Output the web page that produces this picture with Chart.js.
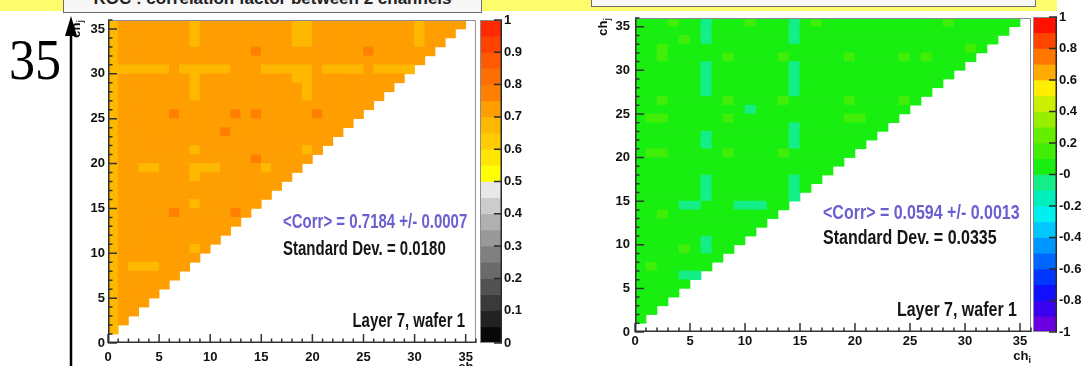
<!DOCTYPE html>
<html>
<head>
<meta charset="utf-8">
<title>Correlation factor between 2 channels</title>
<script src="https://cdn.jsdelivr.net/npm/chart.js@4.4.1/dist/chart.umd.min.js"></script>
<style>
  html, body { margin: 0; padding: 0; background: #fff; }
  #stage { position: relative; width: 1081px; height: 366px; overflow: hidden; background: #fff; }
  #stage canvas { position: absolute; top: 0; }
  .band { position: absolute; left: 0; top: 0; width: 1057px; height: 11px; background: #fcfc6c; z-index: 1; }
  .titlebox { position: absolute; top: -22px; background: #f7f7f7; border: 1px solid #6e6e6e; box-sizing: border-box; overflow: hidden; z-index: 2; }
  .titlebox span { position: absolute; left: 0; right: 0; top: 11px; text-align: center; font: bold 17px/17px "Liberation Sans", Arial, sans-serif; color: #222; white-space: nowrap; }
  .slideNum { position: absolute; left: 9px; top: 31px; font: 58px/58px "Liberation Serif", "Times New Roman", serif; color: #000; transform: scaleX(0.9); transform-origin: left top; z-index: 2; }
  .arrow { position: absolute; left: 0; top: 0; z-index: 3; }
</style>
</head>
<body>
<div id="stage">
  <canvas id="leftMap" width="420" height="366" style="left:60px"></canvas>
  <canvas id="leftBar" width="60" height="366" style="left:480px"></canvas>
  <canvas id="rightMap" width="455" height="366" style="left:580px"></canvas>
  <canvas id="rightBar" width="48" height="366" style="left:1033px"></canvas>
  <div class="band"></div>
  <div class="titlebox" style="left:63px;width:419px;height:35px"><span>ROC : correlation factor between 2 channels</span></div>
  <div class="titlebox" style="left:591px;width:445px;height:29px"></div>
  <div class="slideNum">35</div>
  <svg class="arrow" width="90" height="366">
    <line x1="71" y1="30" x2="71" y2="366" stroke="#000" stroke-width="2.5"/>
    <polygon points="71,16 65,36 77,36" fill="#000"/>
  </svg>
</div>

<script>
// ============================================================================
// DATA
// ============================================================================

const channelCount = 36;
const axisTickValues = [0, 5, 10, 15, 20, 25, 30, 35];

// Left map: colour codes -> correlation value
const leftCodes = ['l', 'o', 'd'];
const leftCodeValues = [0.68, 0.72, 0.77];
// one string per ch_j row, top row (ch_j = 35) first, ch_i = 0 on the left
const leftRows = [
  'loooo ooolo ooooo oooll ooooo ooooo loooo',
  'loooo ooolo ooooo oooll ooooo ooooo looo',
  'loooo ooolo ooooo oooll ooooo ooooo loo',
  'loooo ooooo ooood ooooo ooooo doooo oo',
  'loooo ooooo ooooo ooooo ooooo ooooo o',
  'lllll lolll llooo lllll ollll ollll',
  'loooo ooolo ooooo oooll ooooo oooo',
  'loooo ooolo ooooo ooool ooooo ooo',
  'loooo ooolo ooooo ooool ooooo oo',
  'loooo ooooo ooooo ooooo ooooo o',
  'loooo odooo oodod ooooo doooo',
  'loooo ooooo ooooo ooooo oooo',
  'loooo ooooo odooo ooooo ooo',
  'loooo ooooo ooooo ooooo oo',
  'loooo ooolo ooooo ooool o',
  'loooo ooooo ooood ooooo',
  'looll oooll loooo looo',
  'loooo ooolo ooooo ooo',
  'loooo ooooo ooooo oo',
  'loooo ooooo ooooo o',
  'loooo ooolo ooooo',
  'loooo odooo oodo',
  'loooo ooooo ooo',
  'loooo ooooo oo',
  'loooo ooooo o',
  'loooo ooolo',
  'loooo oooo',
  'lolll ooo',
  'loooo oo',
  'loooo o',
  'loooo',
  'looo',
  'loo',
  'lo',
  'l'
];

// Right map: colour codes -> correlation value
const rightCodes = ['y', 'g', 't'];
const rightCodeValues = [0.13, 0.06, -0.04];
const rightRows = [
  'gggyg gtggg ygggt gyggg ggggg gggyg ggggg',
  'ggggg gtggg ggggt ggggg ggggg ggggg gggg',
  'ggggy gtggg ggggt ggggg ggggg ggggg ggg',
  'ggygg ggggg ggggg ggggg ggggg ggggg yg',
  'ggygg gggyg gggyg ggggy ggggy gyggg g',
  'ggggg gtggg ggggt ggggg ggggg ggggg',
  'ggggg gtggg ggggt ggggg ggggg gggg',
  'ggggg gtggg ggggt ggggg ggggg ggg',
  'ggggg gtggg ggggt ggggg ggggg gg',
  'ggygg gggyg gggyg ggggy ggggy g',
  'ggggg ggggg tgggg ggggg ggggg',
  'gyygg gggyg ggggg ggggy yggg',
  'ggggg ggggg ggggt ggggg ggg',
  'ggggg gtggg ggggt ggggg gg',
  'ggggg gtggg ggggt ggggg g',
  'gyygg gggyg gggyg ggggg',
  'ggggg ggggg ggggg gggg',
  'ggggg ggggg ggggg ggg',
  'ggggg gtggg ggggt gg',
  'ggggg gtggg ggggt g',
  'ggggg gtggg ggggt',
  'ggggt tgggt ttgg',
  'ggygg ggggg ggg',
  'ggggg ggggg gg',
  'ggggg ggggg g',
  'ggggg gtggg',
  'ggggy gtgg',
  'ggggg ggg',
  'gyggg gg',
  'ggggt t',
  'ggggg',
  'gggg',
  'ggg',
  'gg',
  'g'
];

// Colour palettes (low -> high) and the z ranges they cover
const leftPalette = ['#080808', '#222222', '#3a3a3a', '#525252', '#6a6a6a', '#808080', '#999999', '#b0b0b0', '#cccccc', '#e8e8e8',
                     '#ffff00', '#ffe600', '#ffcc00', '#ffb800', '#ff9e00', '#ff8000', '#ff6e00', '#ff5a00', '#ff4200', '#ff2a00'];
const leftRange = [0, 1];
const leftBarTicks = [0, 0.1, 0.2, 0.3, 0.4, 0.5, 0.6, 0.7, 0.8, 0.9, 1];
const leftBarLabels = ['0', '0.1', '0.2', '0.3', '0.4', '0.5', '0.6', '0.7', '0.8', '0.9', '1'];

const rightPalette = ['#6a00e0', '#3a00f0', '#1010ff', '#0036ff', '#0066ff', '#0096ff', '#00c8ff', '#00f0f0', '#00eebb', '#14ee88',
                      '#18ee10', '#40ee08', '#66ee00', '#99ee00', '#ccee00', '#ffee00', '#ffaa00', '#ff7700', '#ff4400', '#ff1100'];
const rightRange = [-1, 1];
const rightBarTicks = [-1, -0.8, -0.6, -0.4, -0.2, 0, 0.2, 0.4, 0.6, 0.8, 1];
const rightBarLabels = ['-1', '-0.8', '-0.6', '-0.4', '-0.2', '-0', '0.2', '0.4', '0.6', '0.8', '1'];

// Statistics boxes
const leftStats = ['<Corr> = 0.7184 +/- 0.0007', 'Standard Dev. = 0.0180', 'Layer 7, wafer 1'];
const rightStats = ['<Corr> = 0.0594 +/- 0.0013', 'Standard Dev. = 0.0335', 'Layer 7, wafer 1'];

// ============================================================================
// HELPERS
// ============================================================================

const fontFamily = '"Liberation Sans", Arial, sans-serif';
const tickFont = { family: fontFamily, size: 13, weight: 'bold' };

function colorFor(v, palette, range) {
  const k = Math.floor((v - range[0]) / (range[1] - range[0]) * palette.length);
  return palette[Math.max(0, Math.min(palette.length - 1, k))];
}

// Turn row strings into floating-bar cells {x, y:[j, j+1], v}
function buildCells(rows, codes, values) {
  const cells = [];
  rows.forEach((row, r) => {
    const j = rows.length - r;
    const chars = row.replace(/ /g, '');
    for (let i = 0; i < chars.length && i < j; i++) {
      cells.push({ x: i + 0.5, y: [j, j + 1], v: values[codes.indexOf(chars[i])] });
    }
  });
  return cells;
}

// "ch" with a subscript, right end at (x, y); rotated for the y axis
function drawSubLabel(ctx, main, sub, x, y, rotate) {
  ctx.save();
  ctx.translate(x, y);
  if (rotate) ctx.rotate(-Math.PI / 2);
  ctx.fillStyle = '#111';
  ctx.textBaseline = 'alphabetic';
  ctx.textAlign = 'left';
  ctx.font = 'bold 13px ' + fontFamily;
  const w1 = ctx.measureText(main).width;
  ctx.font = 'bold 9px ' + fontFamily;
  const w2 = ctx.measureText(sub).width;
  ctx.font = 'bold 13px ' + fontFamily;
  ctx.fillText(main, -(w1 + w2), 0);
  ctx.font = 'bold 9px ' + fontFamily;
  ctx.fillText(sub, -w2, 3);
  ctx.restore();
}

function stretchedText(ctx, text, x, y, align, size, color) {
  ctx.save();
  ctx.translate(x, y);
  ctx.scale(1, 1.3);
  ctx.font = 'bold ' + size + 'px ' + fontFamily;
  ctx.fillStyle = color;
  ctx.textAlign = align;
  ctx.textBaseline = 'middle';
  ctx.fillText(text, 0, 0);
  ctx.restore();
}

// Frame, inward ROOT-style ticks, axis titles and the stats text
const heatFrame = {
  id: 'heatFrame',
  afterDatasetsDraw(chart, args, opts) {
    const { ctx, chartArea: a, scales: { x, y } } = chart;
    ctx.save();
    ctx.strokeStyle = '#8c8c8c';
    ctx.lineWidth = 1;
    ctx.beginPath();
    ctx.moveTo(a.left, a.top + 0.5); ctx.lineTo(a.right - 0.5, a.top + 0.5); ctx.lineTo(a.right - 0.5, a.bottom);
    ctx.stroke();

    ctx.strokeStyle = '#333';
    ctx.lineWidth = 1.5;
    ctx.beginPath();
    ctx.moveTo(a.left + 0.75, a.top); ctx.lineTo(a.left + 0.75, a.bottom - 0.75); ctx.lineTo(a.right, a.bottom - 0.75);
    for (let v = 0; v <= channelCount; v++) {
      const len = axisTickValues.includes(v) ? 9 : 4.5;
      const px = x.getPixelForValue(v);
      ctx.moveTo(px, a.bottom); ctx.lineTo(px, a.bottom - len);
      const py = y.getPixelForValue(v);
      ctx.moveTo(a.left, py); ctx.lineTo(a.left + len, py);
    }
    ctx.stroke();
    ctx.restore();

    drawSubLabel(ctx, 'ch', 'j', a.left - 28, a.top, true);
    drawSubLabel(ctx, 'ch', 'i', a.right, a.bottom + 28, false);

    const s = opts.stats;
    stretchedText(ctx, s.lines[0], s.x, s.y0, 'left', s.size, '#6b5fd0');
    stretchedText(ctx, s.lines[1], s.x, s.y1, 'left', s.size, '#151515');
    stretchedText(ctx, s.lines[2], s.xr, s.y2, 'right', s.size, '#151515');
  }
};

const barFrame = {
  id: 'barFrame',
  afterDatasetsDraw(chart, args, opts) {
    const { ctx, chartArea: a, scales: { y } } = chart;
    ctx.save();
    ctx.strokeStyle = '#8c8c8c';
    ctx.lineWidth = 1;
    ctx.strokeRect(a.left + 0.5, a.top + 0.5, a.right - a.left - 1, a.bottom - a.top - 1);
    ctx.strokeStyle = '#2a2a2a';
    ctx.lineWidth = 1.5;
    ctx.beginPath();
    ctx.moveTo(a.right - 0.75, a.top); ctx.lineTo(a.right - 0.75, a.bottom);
    opts.ticks.forEach(v => {
      const py = y.getPixelForValue(v);
      ctx.moveTo(a.right, py); ctx.lineTo(a.right - 8, py);
    });
    ctx.stroke();
    ctx.restore();
  }
};

// ============================================================================
// CHARTS
// ============================================================================

function makeHeatmap(id, cells, palette, range, geo, stats) {
  return new Chart(document.getElementById(id), {
    type: 'bar',
    data: {
      datasets: [{
        data: cells,
        backgroundColor: c => (c.raw ? colorFor(c.raw.v, palette, range) : '#fff'),
        borderWidth: 0,
        barPercentage: 1,
        categoryPercentage: 1
      }]
    },
    options: {
      responsive: false,
      animation: false,
      devicePixelRatio: 1,
      events: [],
      layout: { padding: { top: geo.top, right: geo.right, left: 0, bottom: 0 } },
      plugins: {
        legend: { display: false },
        tooltip: { enabled: false },
        heatFrame: { stats: stats }
      },
      scales: {
        x: {
          type: 'linear', min: 0, max: channelCount, offset: false,
          grid: { display: false, drawTicks: false, offset: false },
          border: { display: false },
          ticks: { font: tickFont, color: '#111', padding: geo.xPad, autoSkip: false, maxRotation: 0 },
          afterBuildTicks: s => { s.ticks = axisTickValues.map(v => ({ value: v })); },
          afterFit: s => { s.height = geo.xHeight; }
        },
        y: {
          type: 'linear', min: 0, max: channelCount,
          grid: { display: false, drawTicks: false },
          border: { display: false },
          ticks: { font: tickFont, color: '#111', padding: geo.yPad, autoSkip: false },
          afterBuildTicks: s => { s.ticks = axisTickValues.map(v => ({ value: v })); },
          afterFit: s => { s.width = geo.yWidth; }
        }
      }
    },
    plugins: [heatFrame]
  });
}

function makeColorBar(id, palette, range, ticks, labels, geo) {
  const step = (range[1] - range[0]) / palette.length;
  const bands = palette.map((col, k) => ({ x: 'z', y: [range[0] + k * step, range[0] + (k + 1) * step] }));
  return new Chart(document.getElementById(id), {
    type: 'bar',
    data: {
      labels: ['z'],
      datasets: [{ data: bands, backgroundColor: palette, borderWidth: 0, barPercentage: 1, categoryPercentage: 1 }]
    },
    options: {
      responsive: false,
      animation: false,
      devicePixelRatio: 1,
      events: [],
      layout: { padding: { top: geo.top, bottom: geo.bottom, left: 0, right: 0 } },
      plugins: { legend: { display: false }, tooltip: { enabled: false }, barFrame: { ticks: ticks } },
      scales: {
        x: { display: false },
        y: {
          type: 'linear', position: 'right', min: range[0], max: range[1],
          grid: { display: false, drawTicks: false },
          border: { display: false },
          ticks: { font: tickFont, color: '#111', padding: 2, autoSkip: false, callback: (v, i) => labels[i] },
          afterBuildTicks: s => { s.ticks = ticks.map(v => ({ value: v })); },
          afterFit: s => { s.width = geo.axisWidth; }
        }
      }
    },
    plugins: [barFrame]
  });
}

makeHeatmap('leftMap', buildCells(leftRows, leftCodes, leftCodeValues), leftPalette, leftRange,
  { top: 20, right: 3, xHeight: 23, yWidth: 48, xPad: 7, yPad: 3 },
  { lines: leftStats, x: 223, y0: 223, y1: 250, xr: 405, y2: 322, size: 15 });
makeColorBar('leftBar', leftPalette, leftRange, leftBarTicks, leftBarLabels, { top: 20, bottom: 23, axisWidth: 38 });

makeHeatmap('rightMap', buildCells(rightRows, rightCodes, rightCodeValues), rightPalette, rightRange,
  { top: 18, right: 4, xHeight: 34, yWidth: 55, xPad: 2, yPad: 5 },
  { lines: rightStats, x: 243, y0: 213, y1: 238, xr: 437, y2: 310, size: 16 });
makeColorBar('rightBar', rightPalette, rightRange, rightBarTicks, rightBarLabels, { top: 17, bottom: 34, axisWidth: 24 });
</script>
</body>
</html>
